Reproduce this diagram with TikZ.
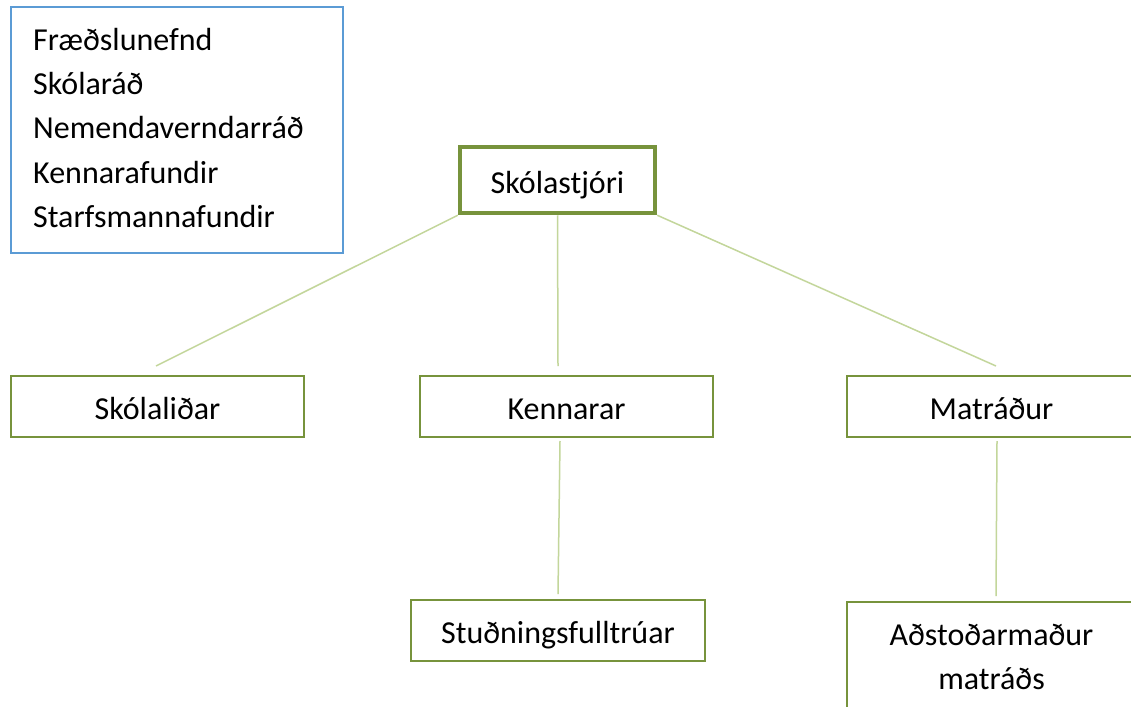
\documentclass[tikz,border=0pt]{standalone}
\usepackage{fontspec}
\setmainfont{Carlito}
\definecolor{boxgreen}{HTML}{77933C}
\definecolor{linkgreen}{HTML}{C3D69B}
\definecolor{listblue}{HTML}{5B9BD5}
\newcommand{\labelfont}{\fontsize{32}{44}\selectfont}
\begin{document}
\begin{tikzpicture}[x=1pt,y=-1pt,
  orgbox/.style={draw=boxgreen,line width=1.6pt,inner sep=0pt,minimum height=61pt,
    font=\labelfont,text height=26pt,text depth=0pt,fill=white},
  bossbox/.style={orgbox,line width=4.5pt,minimum height=66pt,minimum width=195pt},
  listbox/.style={draw=listblue,line width=1.4pt,inner sep=0pt,minimum width=332pt,minimum height=246pt},
  listtext/.style={anchor=base west,inner sep=0pt,font=\labelfont},
  link/.style={draw=linkgreen,line width=1.5pt}]
\useasboundingbox (0,0) rectangle (1131,706);
\clip (0,0) rectangle (1131,706);
\fill[white] (0,0) rectangle (1131,706);

% list box
\node[listbox] (list) at (177,130) {};
\node[listtext] (l1) at (33,51) {Fræðslunefnd};
\node[listtext] (l2) at (33,95) {Skólaráð};
\node[listtext] (l3) at (33,139) {Nemendaverndarráð};
\node[listtext] (l4) at (33,183) {Kennarafundir};
\node[listtext] (l5) at (33,227) {Starfsmannafundir};

% org chart
\node[bossbox] (boss) at (557.5,180) {Skólastjóri};
\node[orgbox,minimum width=293pt] (lidar) at (157.5,406.5) {Skólaliðar};
\node[orgbox,minimum width=293pt] (kenn) at (566.5,406.5) {Kennarar};
\node[orgbox,minimum width=289pt] (matr) at (991.5,406.5) {Matráður};
\node[orgbox,minimum width=294pt] (stud) at (558,630.5) {Stuðningsfulltrúar};
\node[orgbox,minimum width=289pt,minimum height=110pt,align=center,text height=,text depth=] (adst) at (991.5,657) {Aðstoðarmaður\\matráðs};

% connector ends
\coordinate (e1) at (156,366);
\coordinate (e2) at (558,366);
\coordinate (e3) at (996,366);
\coordinate (k1) at (560,441);
\coordinate (k2) at (558,594);
\coordinate (m1) at (997,441);
\coordinate (m2) at (996,596);

\draw[link] (boss.south west) -- (e1);
\draw[link] (boss.south) -- (e2);
\draw[link] (boss.south east) -- (e3);
\draw[link] (k1) -- (k2);
\draw[link] (m1) -- (m2);
\end{tikzpicture}
\end{document}
